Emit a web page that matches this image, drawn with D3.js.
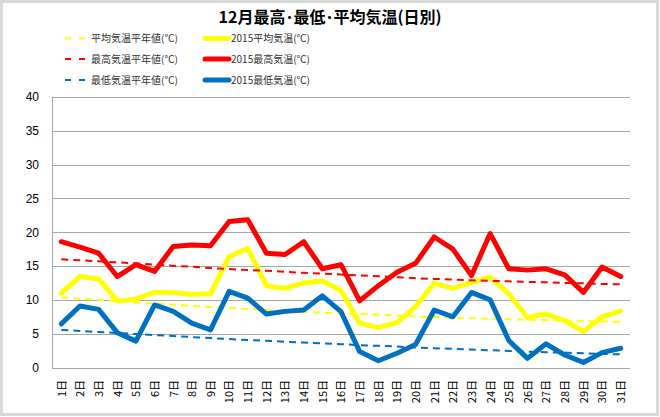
<!DOCTYPE html>
<html><head><meta charset="utf-8">
<script src="https://cdn.jsdelivr.net/npm/d3@7"></script>
<style>body{margin:0;background:#fff}svg{display:block}</style>
</head><body><svg id="c" width="660" height="417"></svg>
<script>
const days = ["1日","2日","3日","4日","5日","6日","7日","8日","9日","10日","11日","12日","13日","14日","15日","16日","17日","18日","19日","20日","21日","22日","23日","24日","25日","26日","27日","28日","29日","30日","31日"];
const yTicks = [0,5,10,15,20,25,30,35,40];

const avgNormal = [10.35,10.15,10.0,9.8,9.6,9.45,9.3,9.1,8.95,8.8,8.65,8.5,8.35,8.25,8.1,8.0,7.9,7.8,7.7,7.55,7.45,7.35,7.3,7.2,7.15,7.05,7.0,6.95,6.85,6.8,6.75];
const avg2015 = [11.0,13.45,13.1,9.85,10.1,11.1,11.1,10.8,10.9,16.4,17.6,12.1,11.7,12.5,12.8,11.4,6.55,5.9,6.65,9.0,12.45,11.7,12.6,13.35,10.9,7.4,7.9,6.95,5.3,7.5,8.35];
const maxNormal = [16.0,15.85,15.7,15.55,15.4,15.2,15.05,14.9,14.7,14.55,14.4,14.3,14.15,14.0,13.9,13.75,13.6,13.5,13.35,13.2,13.1,13.0,12.9,12.8,12.75,12.65,12.6,12.5,12.45,12.35,12.3];
const max2015 = [18.6,17.8,16.9,13.45,15.2,14.2,17.9,18.1,18.0,21.6,21.85,16.9,16.7,18.6,14.6,15.2,9.85,12.1,14.1,15.4,19.3,17.5,13.6,19.8,14.6,14.4,14.6,13.7,11.1,14.85,13.45];
const minNormal = [5.55,5.4,5.25,5.1,4.95,4.8,4.65,4.5,4.35,4.2,4.05,3.95,3.8,3.7,3.55,3.45,3.3,3.2,3.1,2.95,2.85,2.75,2.65,2.55,2.45,2.35,2.25,2.2,2.1,2.0,1.95];
const min2015 = [6.45,9.1,8.6,5.15,3.9,9.25,8.3,6.55,5.55,11.25,10.25,7.9,8.3,8.5,10.6,8.25,2.35,1.0,2.1,3.4,8.5,7.5,11.1,10.0,4.0,1.35,3.5,1.85,0.75,2.2,2.85];

const seriesNames = ["平均気温平年値(℃)","2015平均気温(℃)","最高気温平年値(℃)","2015最高気温(℃)","最低気温平年値(℃)","2015最低気温(℃)"];
const seriesValues = [avgNormal,avg2015,maxNormal,max2015,minNormal,min2015];
const seriesColors = ["#FFFF00","#FFFF00","#FF0000","#FF0000","#0070C0","#0070C0"];
const seriesDashed = [true,false,true,false,true,false];

const svg = d3.select("#c");
svg.append("rect").attr("x",1.5).attr("y",1.5).attr("width",656).attr("height",413)
  .attr("fill","#fff").attr("stroke","#D9D9D9").attr("stroke-width",3);

const x = d3.scalePoint().domain(days).range([52,630]).padding(0.5);
const y = d3.scaleLinear().domain([0,40]).range([367.5,97]);

// gridlines
svg.append("g").selectAll("line").data(yTicks).join("line")
  .attr("x1",52).attr("x2",630).attr("y1",d=>Math.round(y(d))+0.5).attr("y2",d=>Math.round(y(d))+0.5)
  .attr("stroke","#A6A6A6").attr("stroke-width",1);
svg.append("line").attr("x1",52.5).attr("x2",52.5).attr("y1",y(40)).attr("y2",y(0)+0.5)
  .attr("stroke","#A6A6A6");

// y axis labels
const yAxis = d3.axisLeft(y).tickValues(yTicks).tickSize(0).tickPadding(0);
const yg = svg.append("g").attr("transform","translate(39,0)").call(yAxis);
yg.select(".domain").remove();
yg.selectAll("text").attr("font-family","'Liberation Sans',Arial,sans-serif").attr("font-size",12).attr("fill","#000");

// x axis labels
const xAxis = d3.axisBottom(x).tickSize(0).tickPadding(0);
const xg = svg.append("g").attr("transform","translate(0,380)").call(xAxis);
xg.select(".domain").remove();
xg.selectAll("text")
  .attr("font-family","'Noto Sans CJK JP',sans-serif").attr("font-size",11).attr("fill","#000")
  .attr("text-anchor","end").attr("transform","rotate(-90)").attr("x",0).attr("y",0).attr("dy","0.35em");

// lines
const line = d3.line().x((d,i)=>x(days[i])).y(d=>y(d)).curve(d3.curveLinear);
seriesValues.forEach((vals,k)=>{
  svg.append("path").datum(vals).attr("d",line).attr("fill","none")
    .attr("stroke",seriesColors[k])
    .attr("stroke-width",seriesDashed[k]?2:5)
    .attr("stroke-dasharray",seriesDashed[k]?"7,5":null)
    .attr("stroke-linejoin","round").attr("stroke-linecap",seriesDashed[k]?"butt":"round");
});

// title
svg.append("text").attr("x",330).attr("y",23).attr("text-anchor","middle")
  .attr("font-family","'Noto Sans CJK JP',sans-serif").attr("font-weight","bold").attr("font-size",16)
  .attr("fill","#000").text("12月最高･最低･平均気温(日別)");

// legend
const rowsY = [38.5,59,80];
seriesNames.forEach((name,k)=>{
  const row = Math.floor(k/2), col = k%2;
  const g = svg.append("g");
  const yy = rowsY[row];
  if (col===0) {
    g.append("line").attr("x1",65).attr("x2",87).attr("y1",yy).attr("y2",yy)
      .attr("stroke",seriesColors[k]).attr("stroke-width",2).attr("stroke-dasharray","6,8");
    g.append("text").attr("x",91).attr("y",yy).attr("dy","0.35em").text(name);
  } else {
    g.append("line").attr("x1",205).attr("x2",229).attr("y1",yy).attr("y2",yy)
      .attr("stroke",seriesColors[k]).attr("stroke-width",5).attr("stroke-linecap","round");
    g.append("text").attr("x",231).attr("y",yy).attr("dy","0.35em").text(name);
  }
  g.select("text").attr("font-family","'Noto Sans CJK JP',sans-serif").attr("font-size",10).attr("fill","#333");
});
</script></body></html>
